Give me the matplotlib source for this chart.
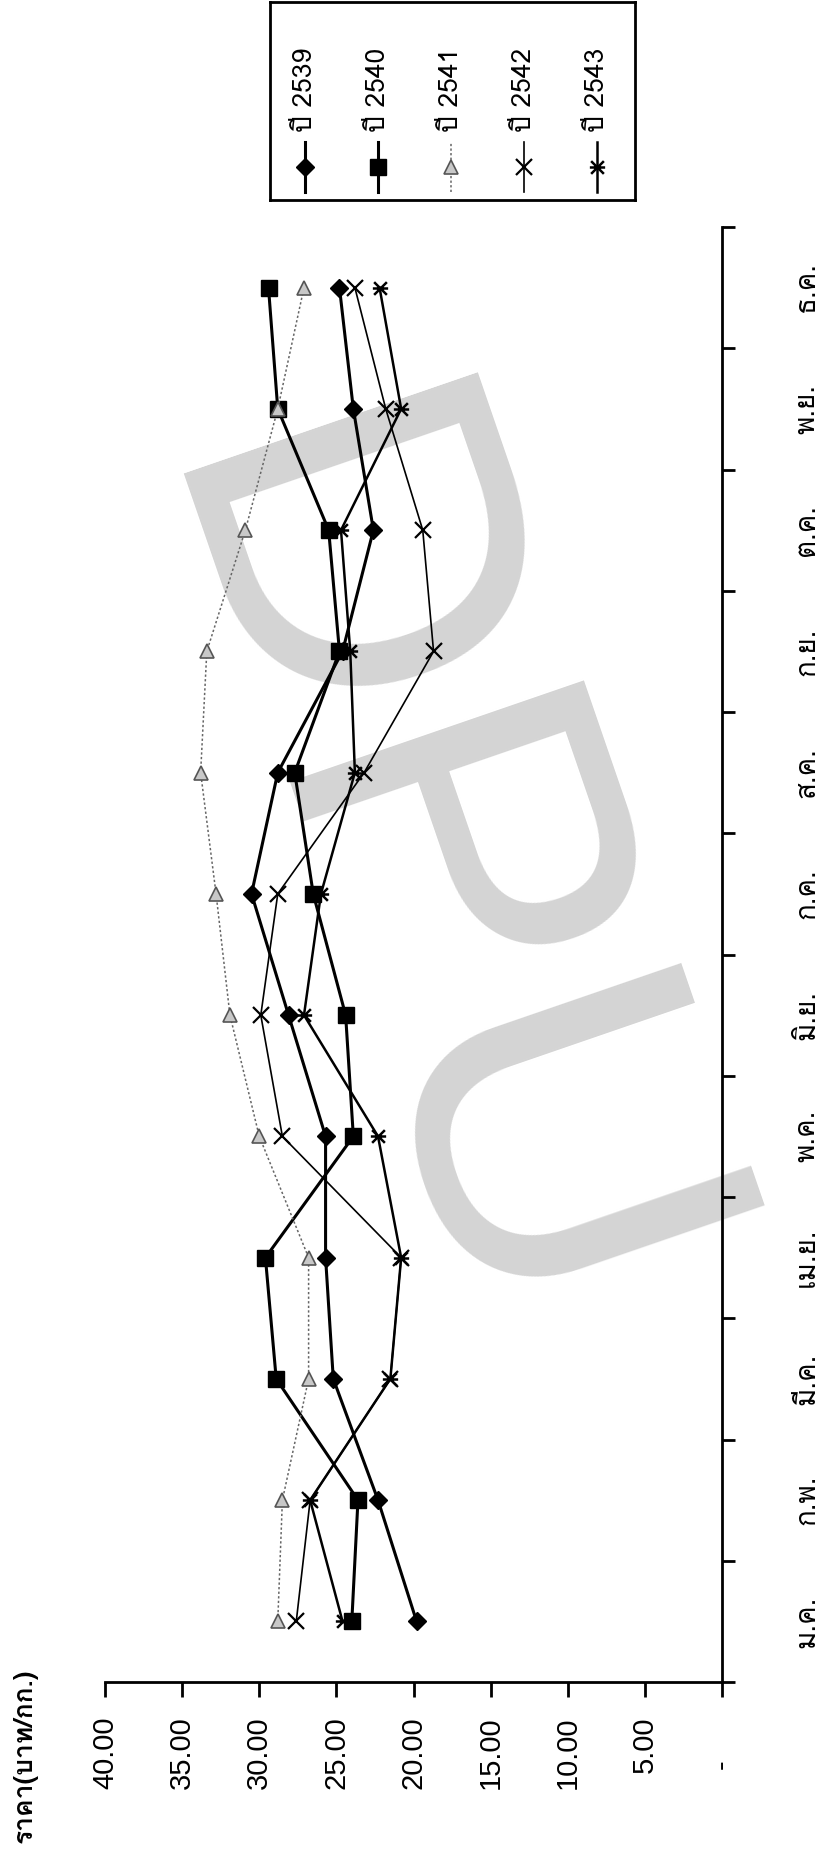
import matplotlib
matplotlib.use("Agg")
import matplotlib.pyplot as plt
from matplotlib import font_manager
from matplotlib.path import Path
import numpy as np

# ---------------- data ----------------
months = ["ม.ค.", "ก.พ.", "มี.ค.", "เม.ย.", "พ.ค.", "มิ.ย.", "ก.ค.", "ส.ค.", "ก.ย.", "ต.ค.", "พ.ย.", "ธ.ค."]
years = ["ปี 2539", "ปี 2540", "ปี 2541", "ปี 2542", "ปี 2543"]
p2539 = [19.8, 22.3, 25.2, 25.7, 25.7, 28.1, 30.5, 28.8, 24.6, 22.6, 23.9, 24.8]
p2540 = [24.0, 23.6, 28.9, 29.6, 23.9, 24.4, 26.5, 27.7, 24.8, 25.5, 28.8, 29.4]
p2541 = [28.8, 28.5, 26.8, 26.8, 30.0, 31.9, 32.8, 33.8, 33.4, 30.9, 28.8, 27.1]
p2542 = [27.6, 26.7, 21.5, 20.8, 28.5, 29.9, 28.8, 23.2, 18.7, 19.4, 21.8, 23.8]
p2543 = [24.6, 26.7, 21.5, 20.8, 22.3, 27.1, 26.0, 23.8, 24.1, 24.7, 20.8, 22.2]
price_ticks = [40, 35, 30, 25, 20, 15, 10, 5, 0]
price_labels = ["40.00", "35.00", "30.00", "25.00", "20.00", "15.00", "10.00", "5.00", "-"]
ylabel = "ราคา(บาท/กก.)"
watermark = "DPU"

# ---------------- fonts ----------------
def find_thai_font():
    try:
        from fontTools.ttLib import TTFont
    except Exception:
        return None
    found = []
    for fe in font_manager.fontManager.ttflist:
        try:
            f = TTFont(fe.fname, fontNumber=0, lazy=True)
            cmap = f.getBestCmap()
            if cmap and 0x0E01 in cmap and 0x0E35 in cmap:
                found.append(fe.name)
        except Exception:
            continue
    pref = ["Norasi", "Loma", "Garuda", "Noto Serif Thai", "Noto Sans Thai", "Kinnari", "Sawasdee"]
    for p in pref:
        if p in found:
            return p
    return found[0] if found else None

thai = find_thai_font()
latin = "Liberation Sans"
thai_fam = ([thai] if thai else []) + [latin, "DejaVu Sans"]
num_fam = [latin, "DejaVu Sans"]

W, H = 822, 1853
fig = plt.figure(figsize=(W / 100, H / 100), dpi=100)

def fx(px):
    return px / W

def fy(py):
    return 1 - py / H

# watermark
fig.text(fx(411), fy(885), watermark, rotation=-71, fontsize=325, color="#d4d4d4",
         family=num_fam, ha="center", va="center", zorder=-5)

L, R, T, B = 105, 722, 227, 1682
ax = fig.add_axes([fx(L), fy(B), fx(R - L), (B - T) / H])
ax.patch.set_visible(False)

pos = np.arange(1, 13)
star = Path([(-1, -1), (1, 1), (-1, 1), (1, -1), (-1.2, 0), (1.2, 0)],
            [Path.MOVETO, Path.LINETO, Path.MOVETO, Path.LINETO, Path.MOVETO, Path.LINETO])

styles = [
    dict(color="black", lw=2.2, marker="D", ms=9, mfc="black", mec="black"),
    dict(color="black", lw=2.2, marker="s", ms=11, mfc="black", mec="black"),
    dict(color="#666666", lw=1.1, ls=(0, (1.5, 1.5)), marker="^", ms=10, mfc="#c8c8c8", mec="#555555", mew=1.2),
    dict(color="black", lw=1.2, marker="x", ms=11, mew=1.6),
    dict(color="black", lw=1.8, marker=star, ms=11, mew=1.8, mec="black"),
]
series = [p2539, p2540, p2541, p2542, p2543]
for vals, st in zip(series, styles):
    ax.plot(vals, pos, zorder=3, clip_on=False, **st)

ax.set_xlim(40, 0)
ax.set_ylim(0.5, 12.5)
for s in ["left", "top"]:
    ax.spines[s].set_visible(False)
for s in ["right", "bottom"]:
    ax.spines[s].set_linewidth(2)
ax.yaxis.tick_right()
ax.set_yticks(np.arange(0.5, 13, 1))
ax.set_yticklabels([])
ax.set_yticks(pos, minor=True)
ax.set_yticklabels(months, minor=True, rotation=90, family=thai_fam, fontsize=20,
                   va="center", ha="left")
ax.tick_params(axis="y", which="major", direction="out", length=9, width=2, right=True, left=False)
ax.tick_params(axis="y", which="minor", length=0, pad=52, right=True, left=False)

ax.set_xticks(price_ticks)
ax.set_xticklabels(price_labels[:-1] + [""], rotation=90, family=num_fam, fontsize=21)
ax.tick_params(axis="x", direction="out", length=11, width=2, pad=14)
ax.annotate(price_labels[-1], xy=(price_ticks[-1], 0), xycoords=("data", "axes fraction"),
            xytext=(0, -56), textcoords="offset points", rotation=90, ha="center", va="top",
            family=num_fam, fontsize=21)

fig.text(fx(25), fy(1756), ylabel, rotation=90, ha="center", va="center",
         family=thai_fam, fontsize=19, fontweight="bold")

# legend (drawn as its own small axes)
lx0, lx1, ly0, ly1 = 270, 635, 2, 200
lg = fig.add_axes([fx(lx0), fy(ly1), fx(lx1 - lx0), (ly1 - ly0) / H])
lg.set_xlim(lx0, lx1)
lg.set_ylim(ly1, ly0)
lg.set_xticks([])
lg.set_yticks([])
for s in lg.spines.values():
    s.set_linewidth(2)
cols = [305, 378, 451, 524, 597]
for cx, name, st in zip(cols, years, styles):
    st2 = dict(st)
    lg.plot([cx, cx], [192, 142], **{k: v for k, v in st2.items() if k not in ("marker", "ms", "mfc", "mec", "mew")})
    lg.plot([cx], [167], ls="none", **{k: v for k, v in st2.items() if k in ("marker", "ms", "mfc", "mec", "mew", "color")})
    lg.text(cx, 132, name, rotation=90, ha="center", va="bottom", family=thai_fam, fontsize=19)

fig.savefig("out.png", dpi=100)
